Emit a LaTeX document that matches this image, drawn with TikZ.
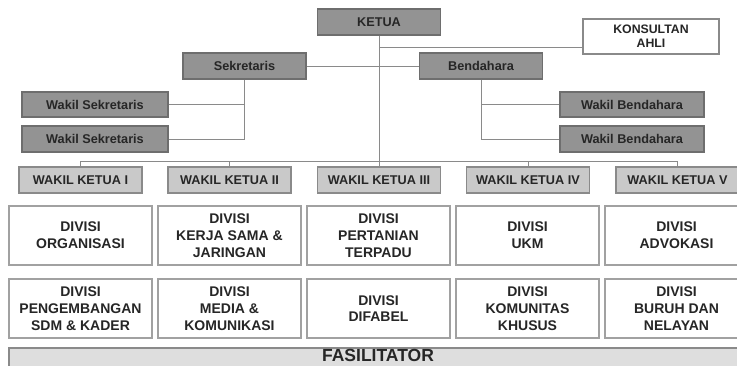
\documentclass[tikz,border=0pt]{standalone}
\usepackage{fontspec}
\setmainfont{Liberation Sans}
\usetikzlibrary{positioning}

\definecolor{boxdark}{HTML}{939393}
\definecolor{boxlight}{HTML}{C9C9C9}
\definecolor{barfill}{HTML}{DEDEDE}
\definecolor{edgegray}{HTML}{6E6E6E}
\definecolor{linegray}{HTML}{8A8A8A}
\definecolor{txt}{HTML}{262626}

\tikzset{
    pengurus/.style={draw=edgegray, line width=1.2pt, fill=boxdark, text=txt,
        font=\fontsize{12.7}{15}\selectfont\bfseries,
        minimum width=123pt, minimum height=26pt, inner sep=0pt},
    wakil/.style={pengurus, fill=boxlight, draw=linegray},
    divisi/.style={draw=linegray!80, line width=1.2pt, fill=white, text=txt,
        font=\fontsize{14}{16.7}\selectfont\bfseries, align=center,
        minimum width=143pt, minimum height=59pt, inner sep=0pt},
    garis/.style={draw=linegray, line width=0.9pt}
}

\begin{document}
\begin{tikzpicture}[x=1pt, y=-1pt]
    \useasboundingbox (0,0) rectangle (737,366);

    % pimpinan
    \node[pengurus] (ketua) at (379,22) {KETUA};
    \node[pengurus, fill=white, draw=linegray, minimum width=136pt, minimum height=35pt,
        align=center, font=\fontsize{12.3}{14}\selectfont\bfseries] (konsultan) at (651,36.5) {KONSULTAN\\AHLI};
    \node[pengurus] (sekretaris) at (244.5,66) {Sekretaris};
    \node[pengurus] (bendahara) at (481,66) {Bendahara};

    \node[pengurus, minimum width=146pt, minimum height=25pt] (wsek1) at (95,104.5) {Wakil Sekretaris};
    \node[pengurus, minimum width=146pt] (wsek2) at (95,139) {Wakil Sekretaris};
    \node[pengurus, minimum width=144pt, minimum height=25pt] (wben1) at (632,104.5) {Wakil Bendahara};
    \node[pengurus, minimum width=144pt] (wben2) at (632,139) {Wakil Bendahara};

    % wakil ketua
    \node[wakil] (wk1) at (80.5,180) {WAKIL KETUA I};
    \node[wakil] (wk2) at (229.5,180) {WAKIL KETUA II};
    \node[wakil] (wk3) at (379,180) {WAKIL KETUA III};
    \node[wakil] (wk4) at (528,180) {WAKIL KETUA IV};
    \node[wakil] (wk5) at (677.5,180) {WAKIL KETUA V};

    % divisi
    \node[divisi] (div1a) at (80.5,235.5) {DIVISI\\ORGANISASI};
    \node[divisi] (div2a) at (229.5,235.5) {DIVISI\\KERJA SAMA \&\\JARINGAN};
    \node[divisi] (div3a) at (378.5,235.5) {DIVISI\\PERTANIAN\\TERPADU};
    \node[divisi] (div4a) at (527.5,235.5) {DIVISI\\UKM};
    \node[divisi] (div5a) at (676.5,235.5) {DIVISI\\ADVOKASI};

    \node[divisi] (div1b) at (80.5,308.5) {DIVISI\\PENGEMBANGAN\\SDM \& KADER};
    \node[divisi] (div2b) at (229.5,308.5) {DIVISI\\MEDIA \&\\KOMUNIKASI};
    \node[divisi] (div3b) at (378.5,308.5) {DIVISI\\DIFABEL};
    \node[divisi] (div4b) at (527.5,308.5) {DIVISI\\KOMUNITAS\\KHUSUS};
    \node[divisi] (div5b) at (676.5,308.5) {DIVISI\\BURUH DAN\\NELAYAN};

    % fasilitator
    \fill[barfill] (9,348) rectangle (760,390);
    \draw[linegray, line width=1.2pt] (9,390) -- (9,348) -- (760,348);
    \node[anchor=base, inner sep=0pt, text=txt, font=\fontsize{17.5}{20}\selectfont\bfseries] (fasilitator) at (378,362) {FASILITATOR};

    % garis
    \coordinate (bus) at (0,161);
    \coordinate (kjoin) at (379,47);
    \draw[garis] (ketua.south) -- (wk3.north);
    \draw[garis] (kjoin) -- (kjoin -| konsultan.west);
    \draw[garis] (sekretaris) -- (bendahara);
    \draw[garis] (sekretaris.south) |- (wsek2.east);
    \draw[garis] (wsek1.east) -- (wsek1.east -| sekretaris.south);
    \draw[garis] (bendahara.south) |- (wben2.west);
    \draw[garis] (wben1.west) -- (wben1.west -| bendahara.south);
    \draw[garis] (wk1.north) -- (wk1.north |- bus) -- (wk5.north |- bus) -- (wk5.north);
    \draw[garis] (wk2.north) -- (wk2.north |- bus);
    \draw[garis] (wk4.north) -- (wk4.north |- bus);
\end{tikzpicture}
\end{document}
